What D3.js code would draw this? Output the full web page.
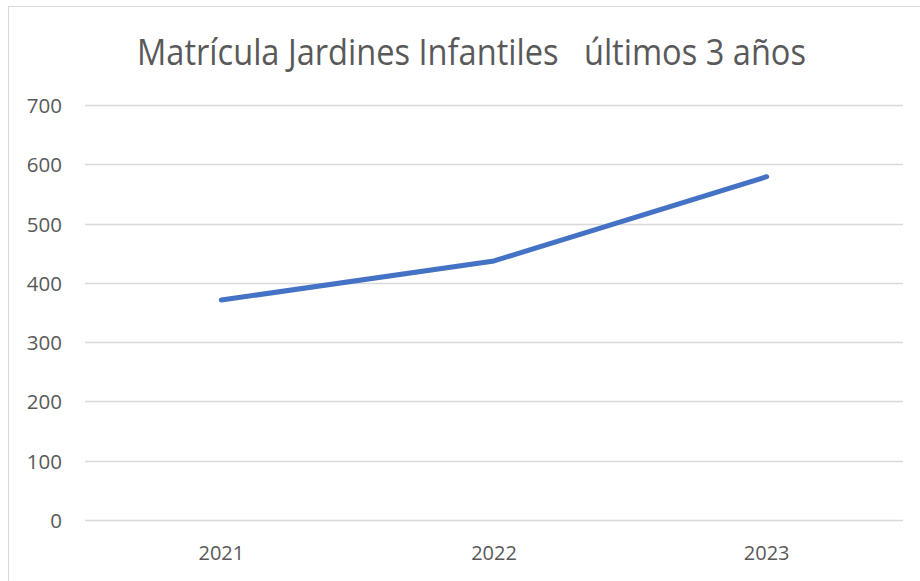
<!DOCTYPE html>
<html><head><meta charset="utf-8">
<script src="https://cdn.jsdelivr.net/npm/d3@7"></script>
<style>body{margin:0;background:#fff}svg{display:block}</style>
</head><body>
<script>
const categories = ["2021", "2022", "2023"];
const values = [371, 437, 579];
const yTicks = [0, 100, 200, 300, 400, 500, 600, 700];
const title = "Matrícula Jardines Infantiles   últimos 3 años";

const W = 920, H = 581;
const svg = d3.select("body").append("svg").attr("width", W).attr("height", H);
const font = "'Open Sans', 'Liberation Sans', sans-serif";

svg.append("rect").attr("x", 8.5).attr("y", 6.5).attr("width", 920).attr("height", 590)
  .attr("fill", "#fff").attr("stroke", "#d9d9d9").attr("stroke-width", 1);

const x = d3.scaleBand().domain(categories).range([85, 903]);
const y = d3.scaleLinear().domain([0, 700]).range([520, 105]);

svg.append("g").selectAll("line").data(yTicks).join("line")
  .attr("x1", 85).attr("x2", 903)
  .attr("y1", d => Math.round(y(d)) + 0.5).attr("y2", d => Math.round(y(d)) + 0.5)
  .attr("stroke", "#d9d9d9").attr("stroke-width", 1.3);

svg.append("g").selectAll("text").data(yTicks).join("text")
  .attr("x", 62).attr("y", d => y(d) + 8)
  .attr("text-anchor", "end").attr("font-family", font).attr("font-size", 20.5)
  .attr("fill", "#595959").text(d => d);

svg.append("g").selectAll("text").data(categories).join("text")
  .attr("x", d => x(d) + x.bandwidth() / 2).attr("y", 560)
  .attr("text-anchor", "middle").attr("font-family", font).attr("font-size", 20)
  .attr("fill", "#595959").text(d => d);

const line = d3.line().x((d, i) => x(categories[i]) + x.bandwidth() / 2).y(d => y(d));
svg.append("path").datum(values).attr("d", line)
  .attr("fill", "none").attr("stroke", "#4472C4").attr("stroke-width", 5)
  .attr("stroke-linecap", "round").attr("stroke-linejoin", "round");

svg.append("text").attr("x", 137).attr("y", 65)
  .attr("font-family", font).attr("font-size", 36)
  .attr("textLength", 669).attr("lengthAdjust", "spacingAndGlyphs")
  .attr("fill", "#595959").style("white-space", "pre").text(title);
</script>
</body></html>
